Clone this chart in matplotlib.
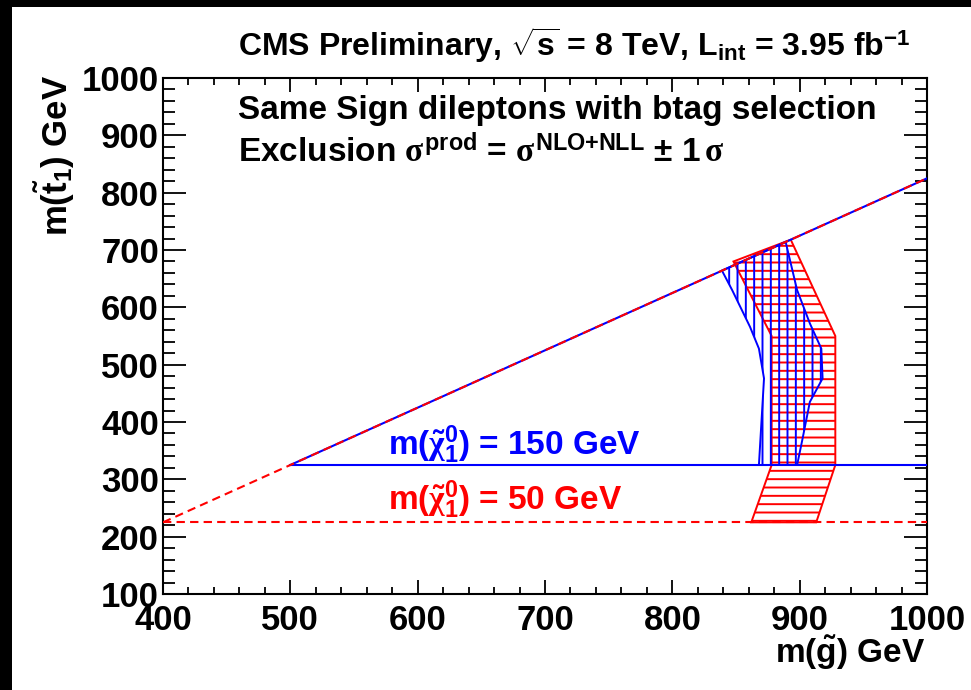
"""Stop/gluino exclusion bands for the same-sign dilepton + btag search."""

import matplotlib
matplotlib.use("Agg")
import matplotlib.pyplot as plt
import numpy as np
from matplotlib.patches import Rectangle
from matplotlib.ticker import MultipleLocator

plt.rcParams["font.family"] = ["Liberation Sans", "DejaVu Sans"]
plt.rcParams["font.weight"] = "bold"
plt.rcParams["mathtext.fontset"] = "custom"
plt.rcParams["mathtext.rm"] = "Liberation Sans:bold"
plt.rcParams["mathtext.bf"] = "Liberation Sans:bold"
plt.rcParams["mathtext.sf"] = "Liberation Sans:bold"
plt.rcParams["mathtext.it"] = "Liberation Serif"
plt.rcParams["hatch.linewidth"] = 1.4

# kinematic limits m(stop) = m(gluino) - m(top), m(stop) = m(chi) + m(top)
kin_gluino = [400, 1000]
kin_stop = [225, 825]
kin150_gluino = [500, 1000]
kin150_stop = [325, 825]
lsp50_floor = 225
lsp150_floor = 325

# m(chi) = 50 GeV band (-1 sigma / +1 sigma edges, bottom to top)
red_lo_x = [862, 878, 878, 848]
red_lo_y = [225, 325, 550, 680]
red_hi_x = [913, 928, 928, 893]
red_hi_y = [225, 325, 550, 718]

# m(chi) = 150 GeV band
blue_lo_x = [868, 872, 868, 861, 847, 839]
blue_lo_y = [325, 476, 528, 566, 630, 664]
blue_hi_x = [898, 902, 908, 918, 917, 908, 898, 889]
blue_hi_y = [325, 368, 435, 476, 528, 572, 630, 714]

xticks = [400, 500, 600, 700, 800, 900, 1000]
yticks = [100, 200, 300, 400, 500, 600, 700, 800, 900, 1000]


def band(lo_x, lo_y, hi_x, hi_y):
    xs = np.concatenate([lo_x, hi_x[::-1]])
    ys = np.concatenate([lo_y, hi_y[::-1]])
    return xs, ys


fig = plt.figure(figsize=(9.71, 6.90), dpi=100, facecolor="white")
fig.add_artist(Rectangle((0, 0), 12 / 971, 1, transform=fig.transFigure,
                         facecolor="black", edgecolor="none"))
fig.add_artist(Rectangle((0, 1 - 7 / 690), 1, 7 / 690, transform=fig.transFigure,
                         facecolor="black", edgecolor="none"))

ax = fig.add_axes([163 / 971, 1 - 594 / 690, 764 / 971, 516 / 690])

xs, ys = band(red_lo_x, red_lo_y, red_hi_x, red_hi_y)
ax.fill(xs, ys, fill=False, edgecolor="red", hatch="--", linewidth=1.4, zorder=2)
xs, ys = band(blue_lo_x, blue_lo_y, blue_hi_x, blue_hi_y)
ax.fill(xs, ys, fill=False, edgecolor="blue", hatch="||", linewidth=1.4, zorder=3)

ax.plot(kin150_gluino, kin150_stop, color="blue", linewidth=1.5, zorder=4)
ax.plot(kin150_gluino, [lsp150_floor, lsp150_floor], color="blue", linewidth=1.5, zorder=4)
ax.plot(kin_gluino, kin_stop, color="red", linewidth=1.5, linestyle=(0, (4, 2.5)), zorder=5)
ax.plot(kin_gluino, [lsp50_floor, lsp50_floor], color="red", linewidth=1.5,
        linestyle=(0, (4, 2.5)), zorder=5)

ax.set_xlim(400, 1000)
ax.set_ylim(100, 1000)
ax.set_xticks(xticks)
ax.set_xticklabels([str(v) for v in xticks])
ax.set_yticks(yticks)
ax.set_yticklabels([str(v) for v in yticks])
ax.xaxis.set_minor_locator(MultipleLocator(20))
ax.yaxis.set_minor_locator(MultipleLocator(20))
ax.tick_params(axis="both", which="both", direction="in", top=True, right=True,
               width=1.3, labelsize=25)
ax.tick_params(axis="x", which="major", length=10, pad=7)
ax.tick_params(axis="x", which="minor", length=5)
ax.tick_params(axis="y", which="major", length=16.5, pad=3)
ax.tick_params(axis="y", which="minor", length=8.3)
for spine in ax.spines.values():
    spine.set_linewidth(1.5)

ax.text(576.7, 342, r"m($\tilde{\chi}_{\mathrm{1}}^{\mathrm{0}}$) = 150 GeV",
        color="blue", fontsize=24, ha="left", va="baseline")
ax.text(576.7, 246.5, r"m($\tilde{\chi}_{\mathrm{1}}^{\mathrm{0}}$) = 50 GeV",
        color="red", fontsize=24, ha="left", va="baseline")

ax.text(0.098, 0.9205, "Same Sign dileptons with btag selection",
        transform=ax.transAxes, fontsize=24, ha="left", va="baseline")
ax.text(0.098, 0.837,
        r"Exclusion $\sigma^{\mathrm{prod}}$ = $\sigma^{\mathrm{NLO{+}NLL}}$ $\pm$ 1$\,\sigma$",
        transform=ax.transAxes, fontsize=24, ha="left", va="baseline")

fig.text(238 / 971, 1 - 56 / 690,
         r"CMS Preliminary, $\sqrt{\mathrm{s}}$ = 8 TeV, L$_{\mathrm{int}}$ = 3.95 fb$^{\mathrm{-1}}$",
         fontsize=23, ha="left", va="baseline")

fig.text(925 / 971, 1 - 663 / 690, r"m($\tilde{\mathrm{g}}$) GeV",
         fontsize=24, ha="right", va="baseline")
fig.text(68 / 971, 1 - 75 / 690, r"m($\tilde{\mathrm{t}}_{\mathrm{1}}$) GeV",
         fontsize=25, rotation=90, rotation_mode="anchor", ha="right", va="baseline")

fig.savefig("out.png", dpi=100)
